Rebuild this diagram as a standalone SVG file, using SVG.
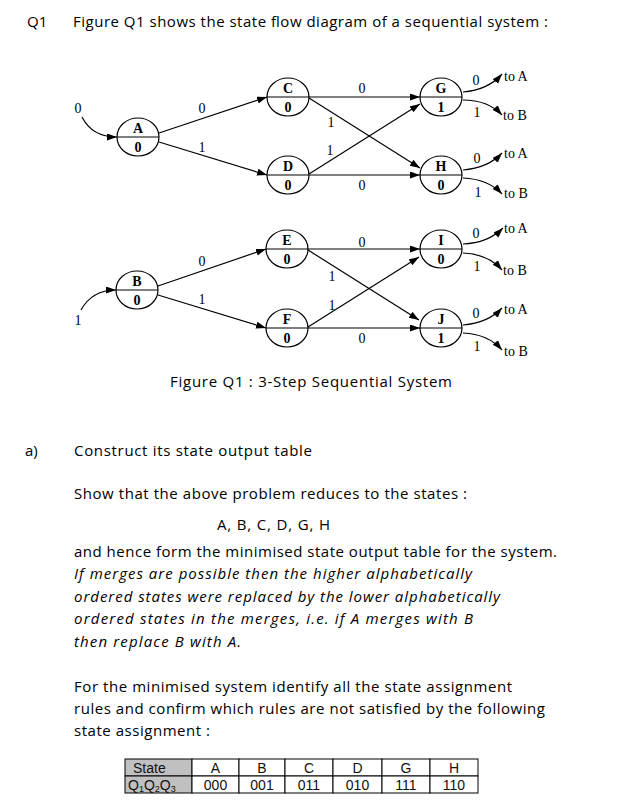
<svg xmlns="http://www.w3.org/2000/svg" width="639" height="807" viewBox="0 0 639 807">
<style>
.bg{fill:#fff}
.node ellipse{fill:#fff;stroke:#000;stroke-width:1.2}
.node line{stroke:#000;stroke-width:1.2}
.nl{font-family:"Liberation Serif",serif;font-weight:bold;font-size:14px;text-anchor:middle;fill:#000}
.el{font-family:"Liberation Serif",serif;font-size:14px;text-anchor:middle;fill:#000}
.to{font-family:"Liberation Serif",serif;font-size:14px;fill:#000}
.edges path{fill:none;stroke:#000;stroke-width:1.2;marker-end:url(#ah)}
.tx{font-family:"Open Sans","DejaVu Sans",sans-serif;font-size:15px;fill:#000}
.it{font-style:italic}
.cell{fill:#fff;stroke:#000;stroke-width:1}
.gray{fill:#c0c0c0;stroke:#000;stroke-width:1}
.tt{font-family:"Liberation Sans",Arial,sans-serif;font-size:14px;fill:#111;text-anchor:middle}
.ts{font-family:"Liberation Sans",Arial,sans-serif;font-size:14px;fill:#111}
</style>
<defs>
<marker id="ah" markerUnits="userSpaceOnUse" markerWidth="10" markerHeight="8" refX="10" refY="3.5" orient="auto">
<path d="M0,0 L10,3.5 L0,7 z" fill="#000"/>
</marker>
</defs>
<rect class="bg" x="0" y="0" width="639" height="807"/>

<text class="tx" x="27" y="27">Q1</text>
<text class="tx" x="73" y="27" textLength="475">Figure Q1 shows the state flow diagram of a sequential system :</text>

<g id="connectors" class="edges">
<path d="M82,117 Q92,137 117,137"/>
<path d="M159,133 L267,97"/>
<path d="M159,142 L267,175"/>
<path d="M309,97 L420,97"/>
<path d="M309,98 L420,168"/>
<path d="M309,174 L420,104"/>
<path d="M309,175 L420,175"/>
<path d="M463,92 Q488,90 502,74"/>
<path d="M463,100 Q488,100 502,115"/>
<path d="M463,170 Q488,168 502,153"/>
<path d="M463,178 Q488,179 502,194"/>

<path d="M81,310 Q92,290 116,290"/>
<path d="M158,286 L266,249"/>
<path d="M158,295 L266,328"/>
<path d="M308,249 L420,249"/>
<path d="M308,250 L419,320"/>
<path d="M308,327 L419,257"/>
<path d="M308,328 L420,328"/>
<path d="M463,244 Q488,243 503,228"/>
<path d="M463,253 Q488,254 502,270"/>
<path d="M463,325 Q488,323 502,308"/>
<path d="M463,333 Q488,334 502,350"/>
</g>

<g id="edge-labels">
<text class="el" x="78" y="113">0</text>
<text class="el" x="202" y="113">0</text>
<text class="el" x="202" y="152">1</text>
<text class="el" x="362" y="93">0</text>
<text class="el" x="331" y="127">1</text>
<text class="el" x="330" y="155">1</text>
<text class="el" x="362" y="190">0</text>
<text class="el" x="476" y="85">0</text>
<text class="el" x="477" y="117">1</text>
<text class="el" x="477" y="163">0</text>
<text class="el" x="478" y="197">1</text>
<text class="to" x="504" y="81">to A</text>
<text class="to" x="503" y="120">to B</text>
<text class="to" x="504" y="158">to A</text>
<text class="to" x="504" y="198">to B</text>

<text class="el" x="78" y="325">1</text>
<text class="el" x="202" y="266">0</text>
<text class="el" x="202" y="304">1</text>
<text class="el" x="362" y="247">0</text>
<text class="el" x="332" y="281">1</text>
<text class="el" x="332" y="310">1</text>
<text class="el" x="362" y="343">0</text>
<text class="el" x="476" y="238">0</text>
<text class="el" x="477" y="271">1</text>
<text class="el" x="476" y="318">0</text>
<text class="el" x="477" y="351">1</text>
<text class="to" x="504" y="233">to A</text>
<text class="to" x="503" y="275">to B</text>
<text class="to" x="504" y="314">to A</text>
<text class="to" x="504" y="356">to B</text>
</g>

<g id="A" class="node"><ellipse cx="138" cy="137" rx="21" ry="19"/><line x1="117" y1="137" x2="159" y2="137"/><text class="nl" x="138" y="133">A</text><text class="nl" x="138" y="152">0</text></g>
<g id="C" class="node"><ellipse cx="288" cy="97" rx="21" ry="19"/><line x1="267" y1="97" x2="309" y2="97"/><text class="nl" x="288" y="93">C</text><text class="nl" x="288" y="112">0</text></g>
<g id="D" class="node"><ellipse cx="288" cy="175" rx="21" ry="19"/><line x1="267" y1="175" x2="309" y2="175"/><text class="nl" x="288" y="171">D</text><text class="nl" x="288" y="190">0</text></g>
<g id="G" class="node"><ellipse cx="441" cy="97" rx="21" ry="19"/><line x1="420" y1="97" x2="462" y2="97"/><text class="nl" x="441" y="93">G</text><text class="nl" x="441" y="112">1</text></g>
<g id="H" class="node"><ellipse cx="441" cy="175" rx="21" ry="19"/><line x1="420" y1="175" x2="462" y2="175"/><text class="nl" x="441" y="171">H</text><text class="nl" x="441" y="190">0</text></g>
<g id="B" class="node"><ellipse cx="137" cy="290" rx="21" ry="19"/><line x1="116" y1="290" x2="158" y2="290"/><text class="nl" x="137" y="286">B</text><text class="nl" x="137" y="305">0</text></g>
<g id="E" class="node"><ellipse cx="287" cy="249" rx="21" ry="19"/><line x1="266" y1="249" x2="308" y2="249"/><text class="nl" x="287" y="245">E</text><text class="nl" x="287" y="264">0</text></g>
<g id="F" class="node"><ellipse cx="287" cy="328" rx="21" ry="19"/><line x1="266" y1="328" x2="308" y2="328"/><text class="nl" x="287" y="324">F</text><text class="nl" x="287" y="343">0</text></g>
<g id="I" class="node"><ellipse cx="441" cy="249" rx="21" ry="19"/><line x1="420" y1="249" x2="462" y2="249"/><text class="nl" x="441" y="245">I</text><text class="nl" x="441" y="264">0</text></g>
<g id="J" class="node"><ellipse cx="441" cy="328" rx="21" ry="19"/><line x1="420" y1="328" x2="462" y2="328"/><text class="nl" x="441" y="324">J</text><text class="nl" x="441" y="343">1</text></g>

<text class="tx" x="170" y="387" textLength="282">Figure Q1 : 3-Step Sequential System</text>

<g id="question-text">
<text class="tx" x="25" y="456">a)</text>
<text class="tx" x="74" y="456" textLength="238">Construct its state output table</text>
<text class="tx" x="74" y="499" textLength="393">Show that the above problem reduces to the states :</text>
<text class="tx" x="217" y="530" textLength="113">A, B, C, D, G, H</text>
<text class="tx" x="74" y="557" textLength="483">and hence form the minimised state output table for the system.</text>
<text class="tx it" x="74" y="579" textLength="398">If merges are possible then the higher alphabetically</text>
<text class="tx it" x="74" y="602" textLength="426">ordered states were replaced by the lower alphabetically</text>
<text class="tx it" x="74" y="624" textLength="399">ordered states in the merges, i.e. if A merges with B</text>
<text class="tx it" x="74" y="647" textLength="167">then replace B with A.</text>
<text class="tx" x="74" y="692" textLength="438">For the minimised system identify all the state assignment</text>
<text class="tx" x="74" y="714" textLength="471">rules and confirm which rules are not satisfied by the following</text>
<text class="tx" x="74" y="736" textLength="136">state assignment :</text>
</g>

<g id="table">
<rect class="gray" x="125" y="759" width="67" height="17"/>
<rect class="gray" x="125" y="776" width="67" height="17"/>
<rect class="cell" x="192" y="759" width="47" height="17"/><rect class="cell" x="192" y="776" width="47" height="17"/>
<rect class="cell" x="239" y="759" width="46" height="17"/><rect class="cell" x="239" y="776" width="46" height="17"/>
<rect class="cell" x="285" y="759" width="48" height="17"/><rect class="cell" x="285" y="776" width="48" height="17"/>
<rect class="cell" x="333" y="759" width="49" height="17"/><rect class="cell" x="333" y="776" width="49" height="17"/>
<rect class="cell" x="382" y="759" width="48" height="17"/><rect class="cell" x="382" y="776" width="48" height="17"/>
<rect class="cell" x="430" y="759" width="48" height="17"/><rect class="cell" x="430" y="776" width="48" height="17"/>
<text class="ts" x="133" y="773">State</text>
<text class="ts" x="128" y="790">Q<tspan font-size="9" dy="2">1</tspan><tspan dy="-2">Q</tspan><tspan font-size="9" dy="2">2</tspan><tspan dy="-2">Q</tspan><tspan font-size="9" dy="2">3</tspan></text>
<text class="tt" x="215.5" y="773">A</text><text class="tt" x="215.5" y="790">000</text>
<text class="tt" x="262" y="773">B</text><text class="tt" x="262" y="790">001</text>
<text class="tt" x="309" y="773">C</text><text class="tt" x="309" y="790">011</text>
<text class="tt" x="357.5" y="773">D</text><text class="tt" x="357.5" y="790">010</text>
<text class="tt" x="406" y="773">G</text><text class="tt" x="406" y="790">111</text>
<text class="tt" x="454" y="773">H</text><text class="tt" x="454" y="790">110</text>
</g>
</svg>
